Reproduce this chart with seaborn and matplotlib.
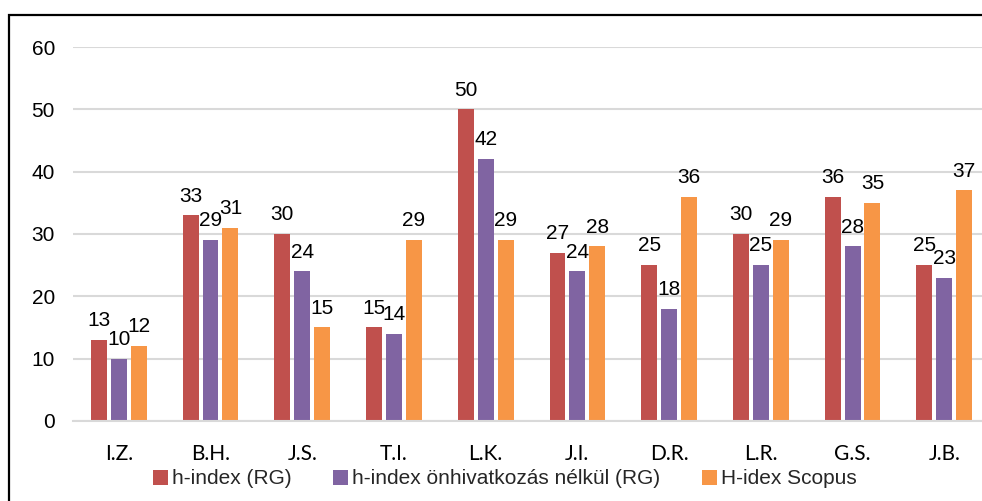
import matplotlib
matplotlib.use('Agg')
import matplotlib.pyplot as plt
import numpy as np
import pandas as pd
import seaborn as sns
from matplotlib.patches import Rectangle

people = ['I.Z.', 'B.H.', 'J.S.', 'T.I.', 'L.K.', 'J.I.', 'D.R.', 'L.R.', 'G.S.', 'J.B.']
h_rg = [13, 33, 30, 15, 50, 27, 25, 30, 36, 25]
h_rg_noself = [10, 29, 24, 14, 42, 24, 18, 25, 28, 23]
h_scopus = [12, 31, 15, 29, 29, 28, 36, 29, 35, 37]
series_names = ['h-index (RG)', 'h-index önhivatkozás nélkül (RG)', 'H-idex Scopus']
colors = ['#C0504D', '#8064A2', '#F79646']

df = pd.DataFrame({
    'person': people * 3,
    'value': h_rg + h_rg_noself + h_scopus,
    'series': [series_names[0]] * 10 + [series_names[1]] * 10 + [series_names[2]] * 10,
})

sns.set_theme(style='white')
plt.rcParams['font.family'] = ['Liberation Sans', 'DejaVu Sans']

fig = plt.figure(figsize=(9.82, 5.01), dpi=100)
ax = fig.add_axes([0.0743, 0.16, 0.934, 0.746])

sns.barplot(data=df, x='person', y='value', hue='series', palette=colors,
            width=0.65, gap=0.2, saturation=1, linewidth=0, ax=ax, legend=True)

for c in ax.containers:
    ax.bar_label(c, fmt='%d', padding=7, fontsize=15, color='black')

ax.set_xlim(-0.5, 9.5)
ax.set_ylim(0, 60)
ax.set_yticks(np.arange(0, 61, 10))
ax.yaxis.grid(True, color='#D9D9D9', linewidth=1.5)
ax.set_axisbelow(True)
for s in ['top', 'right', 'left']:
    ax.spines[s].set_visible(False)
ax.spines['bottom'].set_color('#D9D9D9')
ax.spines['bottom'].set_linewidth(1.5)
ax.set_xlabel('')
ax.set_ylabel('')
ax.tick_params(axis='y', length=0, pad=13, labelsize=15, labelcolor='black')
ax.tick_params(axis='x', length=0, pad=17, labelsize=15, labelcolor='black')
for lab in ax.get_xticklabels():
    lab.set_family(['Lato', 'DejaVu Sans'])

handles, labels = ax.get_legend_handles_labels()
ax.legend_.remove()
fig.legend(handles, labels, loc='center', bbox_to_anchor=(505 / 982, 1 - 479 / 501),
           ncol=3, frameon=False, fontsize=15, handlelength=0.7, handleheight=0.7,
           handletextpad=0.2, columnspacing=2.0, borderpad=0)

# chart border (Excel style frame, cut at right/bottom)
fig.patches.append(Rectangle((8.5 / 982, -0.1), 1.2, 1.1 - 14.5 / 501,
                             transform=fig.transFigure, fill=False,
                             edgecolor='black', linewidth=1.6))

fig.savefig('out.png', dpi=100)
